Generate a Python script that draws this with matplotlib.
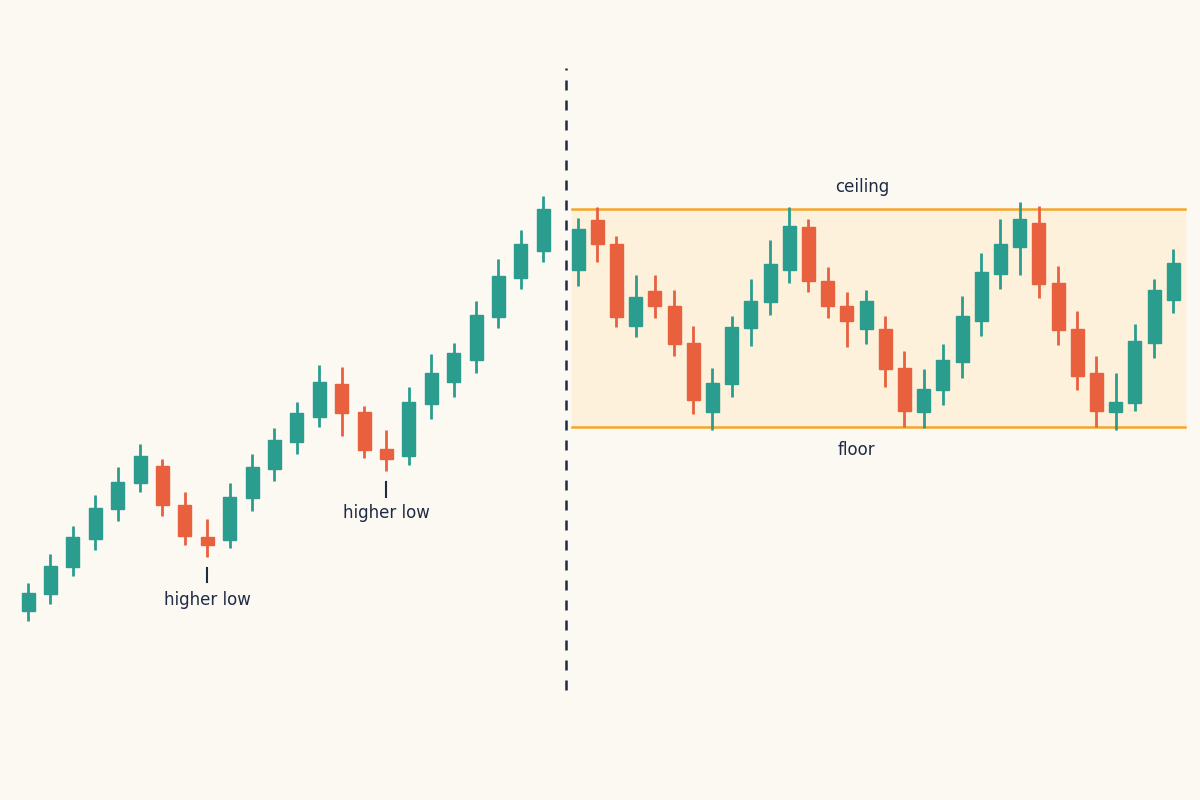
import matplotlib.pyplot as plt
from matplotlib.patches import Rectangle

# uptrend candles (open, high, low, close)
trend_open = [189, 206, 233, 261, 291, 317, 334, 295, 263, 260, 302, 331, 358, 383, 416, 388, 351, 344, 396, 418, 440, 483, 522, 549]
trend_high = [217, 246, 274, 305, 333, 356, 341, 308, 281, 317, 346, 372, 398, 435, 433, 394, 370, 413, 446, 457, 499, 541, 570, 604]
trend_low = [179, 196, 224, 250, 279, 308, 284, 255, 243, 252, 289, 319, 346, 373, 364, 342, 329, 335, 381, 403, 427, 472, 511, 538]
trend_close = [207, 234, 263, 292, 318, 344, 295, 264, 255, 303, 333, 360, 387, 418, 387, 350, 341, 398, 427, 447, 485, 524, 556, 591]

# range candles
range_open = [530, 580, 556, 474, 509, 494, 457, 388, 416, 472, 498, 530, 573, 519, 494, 471, 471, 432, 388, 410, 438, 479, 526, 553, 577, 517, 471, 427, 388, 397, 457, 500]
range_high = [582, 593, 564, 525, 525, 510, 474, 432, 484, 521, 560, 593, 581, 533, 508, 510, 484, 449, 431, 456, 504, 547, 581, 598, 594, 534, 489, 444, 427, 476, 521, 551]
range_low = [514, 538, 473, 463, 482, 444, 386, 370, 403, 454, 485, 517, 508, 482, 453, 456, 413, 373, 372, 395, 422, 464, 511, 525, 502, 455, 410, 373, 370, 389, 442, 487]
range_close = [571, 556, 483, 503, 494, 456, 400, 417, 473, 499, 536, 574, 519, 494, 479, 499, 431, 389, 411, 440, 484, 528, 556, 581, 516, 470, 424, 389, 398, 459, 510, 537]

ceiling = 591
floor = 373

GREEN = "#2a9d8f"
RED = "#e8603e"
NAVY = "#1f2a44"
ORANGE = "#f4a62a"


def draw_candles(ax, x0, step, width, o, h, l, c):
    for i in range(len(o)):
        x = x0 + i * step
        col = GREEN if c[i] >= o[i] else RED
        ax.plot([x, x], [l[i], h[i]], color=col, linewidth=2, solid_capstyle="butt", zorder=3)
        lo, hi = min(o[i], c[i]), max(o[i], c[i])
        ax.add_patch(Rectangle((x - width / 2, lo), width, max(hi - lo, 2), color=col, zorder=4))


fig = plt.figure(figsize=(12, 8), dpi=100)
fig.patch.set_facecolor("#fcf9f3")
ax = fig.add_axes([0, 0, 1, 1])
ax.set_facecolor("#fcf9f3")
ax.set_xlim(0, 1200)
ax.set_ylim(0, 800)
ax.axis("off")

# range band
ax.add_patch(Rectangle((572, floor), 613, ceiling - floor, color="#fdf1dc", zorder=1))
ax.plot([572, 1185], [ceiling, ceiling], color=ORANGE, linewidth=1.8, zorder=2)
ax.plot([572, 1185], [floor, floor], color=ORANGE, linewidth=1.8, zorder=2)

draw_candles(ax, 28, 22.4, 13, trend_open, trend_high, trend_low, trend_close)
draw_candles(ax, 578, 19.2, 13, range_open, range_high, range_low, range_close)

# divider
ax.plot([566, 566], [110, 732], color=NAVY, linewidth=1.8, linestyle=(0, (4, 4)), zorder=2)

# labels
ax.text(862, 613, "ceiling", ha="center", va="center", fontsize=12, color=NAVY)
ax.text(856, 350, "floor", ha="center", va="center", fontsize=12, color=NAVY)
ax.plot([207, 207], [218, 232], color=NAVY, linewidth=1.5)
ax.text(207, 200, "higher low", ha="center", va="center", fontsize=12, color=NAVY)
ax.plot([386, 386], [303, 318], color=NAVY, linewidth=1.5)
ax.text(386, 287, "higher low", ha="center", va="center", fontsize=12, color=NAVY)

fig.savefig("out.png", dpi=100, facecolor=fig.get_facecolor())
